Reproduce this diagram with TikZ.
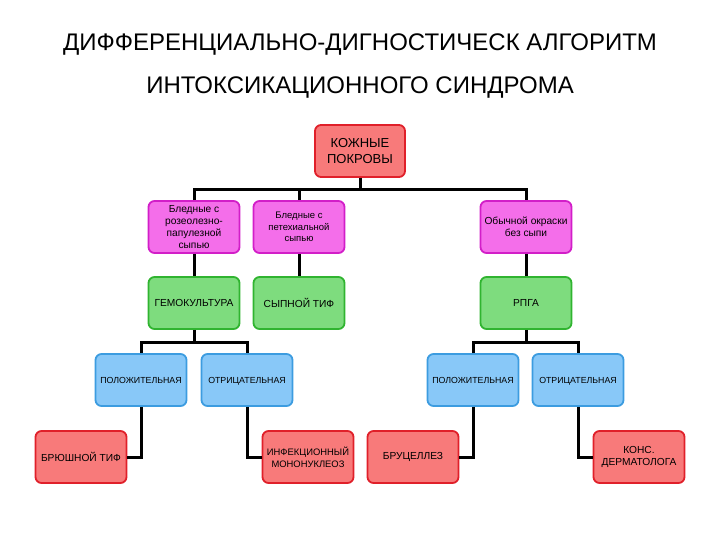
\documentclass[tikz,border=0pt]{standalone}
\usepackage{fontspec}
\setmainfont{Liberation Sans}
\usetikzlibrary{positioning}

\definecolor{redfill}{HTML}{F87A7A}
\definecolor{redline}{HTML}{E0202A}
\definecolor{pinkfill}{HTML}{F46EEA}
\definecolor{pinkline}{HTML}{D21EC8}
\definecolor{greenfill}{HTML}{7EDC7E}
\definecolor{greenline}{HTML}{30B430}
\definecolor{bluefill}{HTML}{88C8F8}
\definecolor{blueline}{HTML}{3C9CE0}

\begin{document}
\begin{tikzpicture}[x=1pt, y=-1pt,
  box/.style={draw, line width=1.8pt, rounded corners=6pt, minimum width=91pt,
    minimum height=52pt, inner sep=1pt, align=center, font=\fontsize{10.2}{11.7}\selectfont},
  redbox/.style={box, fill=redfill, draw=redline},
  pinkbox/.style={box, fill=pinkfill, draw=pinkline},
  greenbox/.style={box, fill=greenfill, draw=greenline},
  bluebox/.style={box, fill=bluefill, draw=blueline, font=\fontsize{8.8}{10.6}\selectfont,
    text height=6.5pt, text depth=0.5pt},
  link/.style={line width=3pt, black}]
  \useasboundingbox (0,0) rectangle (720,540);
  % title
  \node[font=\fontsize{24}{26}\selectfont] (title1) at (360,45) {ДИФФЕРЕНЦИАЛЬНО-ДИГНОСТИЧЕСК АЛГОРИТМ};
  \node[font=\fontsize{24}{26}\selectfont] (title2) at (360,88) {ИНТОКСИКАЦИОННОГО СИНДРОМА};
  % levels
  \node[redbox, minimum width=90pt, font=\fontsize{13}{16.5}\selectfont] (skin) at (360,151) {КОЖНЫЕ\\ПОКРОВЫ};
  \node[pinkbox] (pale1) at (194,227) {Бледные с\\розеолезно-\\папулезной\\сыпью};
  \node[pinkbox, font=\fontsize{9.5}{11.7}\selectfont] (pale2) at (299,227) {Бледные с\\петехиальной\\сыпью};
  \node[pinkbox] (plain) at (526,227) {Обычной окраски\\без сыпи};
  \node[greenbox] (hemo) at (194,303) {ГЕМОКУЛЬТУРА};
  \node[greenbox] (typhus) at (299,303) {СЫПНОЙ ТИФ};
  \node[greenbox] (rpga) at (526,303) {РПГА};
  \node[bluebox] (pos1) at (141,380) {ПОЛОЖИТЕЛЬНАЯ};
  \node[bluebox] (neg1) at (247,380) {ОТРИЦАТЕЛЬНАЯ};
  \node[bluebox] (pos2) at (473,380) {ПОЛОЖИТЕЛЬНАЯ};
  \node[bluebox] (neg2) at (578,380) {ОТРИЦАТЕЛЬНАЯ};
  \node[redbox] (typhoid) at (81,457) {БРЮШНОЙ ТИФ};
  \node[redbox, font=\fontsize{9.4}{11.7}\selectfont] (mono) at (308,457) {ИНФЕКЦИОННЫЙ\\МОНОНУКЛЕОЗ};
  \node[redbox] (brucel) at (413,457) {БРУЦЕЛЛЕЗ};
  \node[redbox] (derma) at (639,457) {КОНС.\\ДЕРМАТОЛОГА};
  % connectors
  \draw[link] (skin.south) -- ++(0,12) coordinate (skinbar);
  \draw[link] (pale1.north) |- (skinbar) -| (plain.north);
  \draw[link] (pale2.north) -- (pale2.north |- skinbar);
  \draw[link] (pale1) -- (hemo);
  \draw[link] (pale2) -- (typhus);
  \draw[link] (plain) -- (rpga);
  \draw[link] (hemo.south) -- ++(0,13) coordinate (hemobar);
  \draw[link] (pos1.north) |- (hemobar) -| (neg1.north);
  \draw[link] (rpga.south) -- ++(0,13) coordinate (rpgabar);
  \draw[link] (pos2.north) |- (rpgabar) -| (neg2.north);
  \draw[link] (pos1.south) |- (typhoid.east);
  \draw[link] (neg1.south) |- (mono.west);
  \draw[link] (pos2.south) |- (brucel.east);
  \draw[link] (neg2.south) |- (derma.west);
\end{tikzpicture}
\end{document}
